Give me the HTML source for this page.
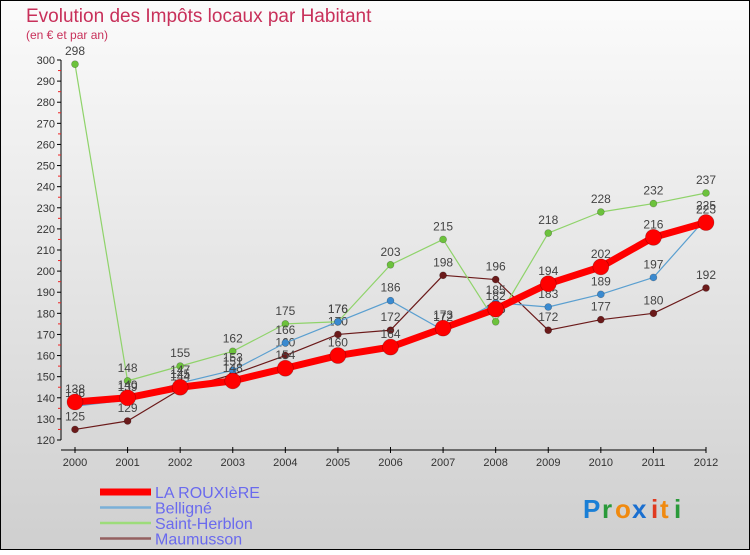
<!DOCTYPE html>
<html><head><meta charset="utf-8"><style>
html,body{margin:0;padding:0}
body{width:750px;height:550px;overflow:hidden;font-family:"Liberation Sans","DejaVu Sans",sans-serif}
</style></head><body>
<svg width="750" height="550" viewBox="0 0 750 550" id="svg" font-family="Liberation Sans, DejaVu Sans, sans-serif">
<defs><linearGradient id="bg" x1="0" y1="0" x2="0" y2="1"><stop offset="0" stop-color="#fbfbfb"/><stop offset="1" stop-color="#cfcfcf"/></linearGradient></defs>
<rect x="0.5" y="0.5" width="749" height="549" fill="url(#bg)" stroke="#000"/>
<text x="26" y="22" font-size="19" fill="#c8305a">Evolution des Impôts locaux par Habitant</text>
<text x="26" y="39" font-size="12" fill="#c8305a">(en € et par an)</text>
<g id="axes"></g>
<g id="series"></g>
<g id="legend"></g>
<g font-size="26" font-weight="bold">
<text x="583" y="518" fill="#1a7fd6">P</text><text x="602" y="518" fill="#2a9a3a">r</text><text x="615" y="518" fill="#f08a10">o</text><text x="632" y="518" fill="#1a6fd0">x</text><text x="651" y="518" fill="#e03a20">i</text><text x="660" y="518" fill="#f08a10">t</text><text x="674" y="518" fill="#2a9a3a">i</text>
</g>
</svg>
<script>
const years=[2000,2001,2002,2003,2004,2005,2006,2007,2008,2009,2010,2011,2012];
const yTicks=[120,130,140,150,160,170,180,190,200,210,220,230,240,250,260,270,280,290,300];
const seriesNames=["LA ROUXIèRE","Belligné","Saint-Herblon","Maumusson"];
const rouxiere=[138,140,145,148,154,160,164,173,182,194,202,216,223];
const belligne=[136,139,147,153,166,176,186,172,185,183,189,197,225];
const herblon=[298,148,155,162,175,176,203,215,176,218,228,232,237];
const maumusson=[125,129,144,151,160,170,172,198,196,172,177,180,192];
const NS="http://www.w3.org/2000/svg";
const xS=i=>75+i*(706-75)/(years.length-1);
const yS=v=>440-(v-120)*(380/180);
function mk(t,a,p){const e=document.createElementNS(NS,t);for(const k in a)e.setAttribute(k,a[k]);p.appendChild(e);return e;}
const ax=document.getElementById('axes');
let yl=mk('line',{x1:61,y1:60,x2:61,y2:440,stroke:'#000'},ax);

yTicks.forEach(v=>{
 mk('line',{x1:57,y1:yS(v),x2:61,y2:yS(v),stroke:'#000'},ax);
 if(v<300)mk('line',{x1:58,y1:yS(v+5),x2:61,y2:yS(v+5),stroke:'#e22'},ax);
 const t=mk('text',{x:55,y:yS(v)+4,'text-anchor':'end','font-size':11,fill:'#333'},ax);t.textContent=v;
 
});
let xl=mk('line',{x1:61,y1:450,x2:706,y2:450,stroke:'#000'},ax);

years.forEach((y,i)=>{
 mk('line',{x1:xS(i),y1:447,x2:xS(i),y2:453,stroke:'#000'},ax);
 const t=mk('text',{x:xS(i),y:466,'text-anchor':'middle','font-size':11,fill:'#333'},ax);t.textContent=y;
 
});
const sg=document.getElementById('series');
const defs=[[maumusson,'#6b1a1a','#6b1a1a',1.2,3.5,'maumusson'],[herblon,'#8fd36a','#6cc23c',1.2,3.5,'saint-herblon'],[belligne,'#5a9fd0','#3a8ad0',1.2,3.5,'belligne'],[rouxiere,'#f00','#f00',7,8,'la-rouxiere']];
defs.forEach(([d,lc,pc,w,r,n])=>{
 const g=mk('g',{},sg);
 
 mk('polyline',{points:d.map((v,i)=>xS(i)+','+yS(v)).join(' '),fill:'none',stroke:lc,'stroke-width':w,'stroke-linejoin':'round'},g);
 d.forEach((v,i)=>{
  const c=mk('circle',{cx:xS(i),cy:yS(v),r:r,fill:pc,stroke:'rgba(0,0,0,0.3)','stroke-width':0.6},g);
  
  const t=mk('text',{x:xS(i),y:yS(v)-9,'text-anchor':'middle','font-size':12,fill:'#444'},g);t.textContent=v;
  
 });
});
const lg=document.getElementById('legend');
const lcols=['#f00','#7ab0d8','#9ddc7a','#946060'];const lw=[7,2.5,2.5,2.5];
seriesNames.forEach((s,i)=>{
 const y=492+i*15.5;
 const g=mk('g',{},lg);
 
 mk('line',{x1:100,y1:y,x2:151,y2:y,stroke:lcols[i],'stroke-width':lw[i]},g);
 const t=mk('text',{x:155,y:y+6,'font-size':16,fill:'#6a6aee'},g);t.textContent=s;
});
</script>
</body></html>
